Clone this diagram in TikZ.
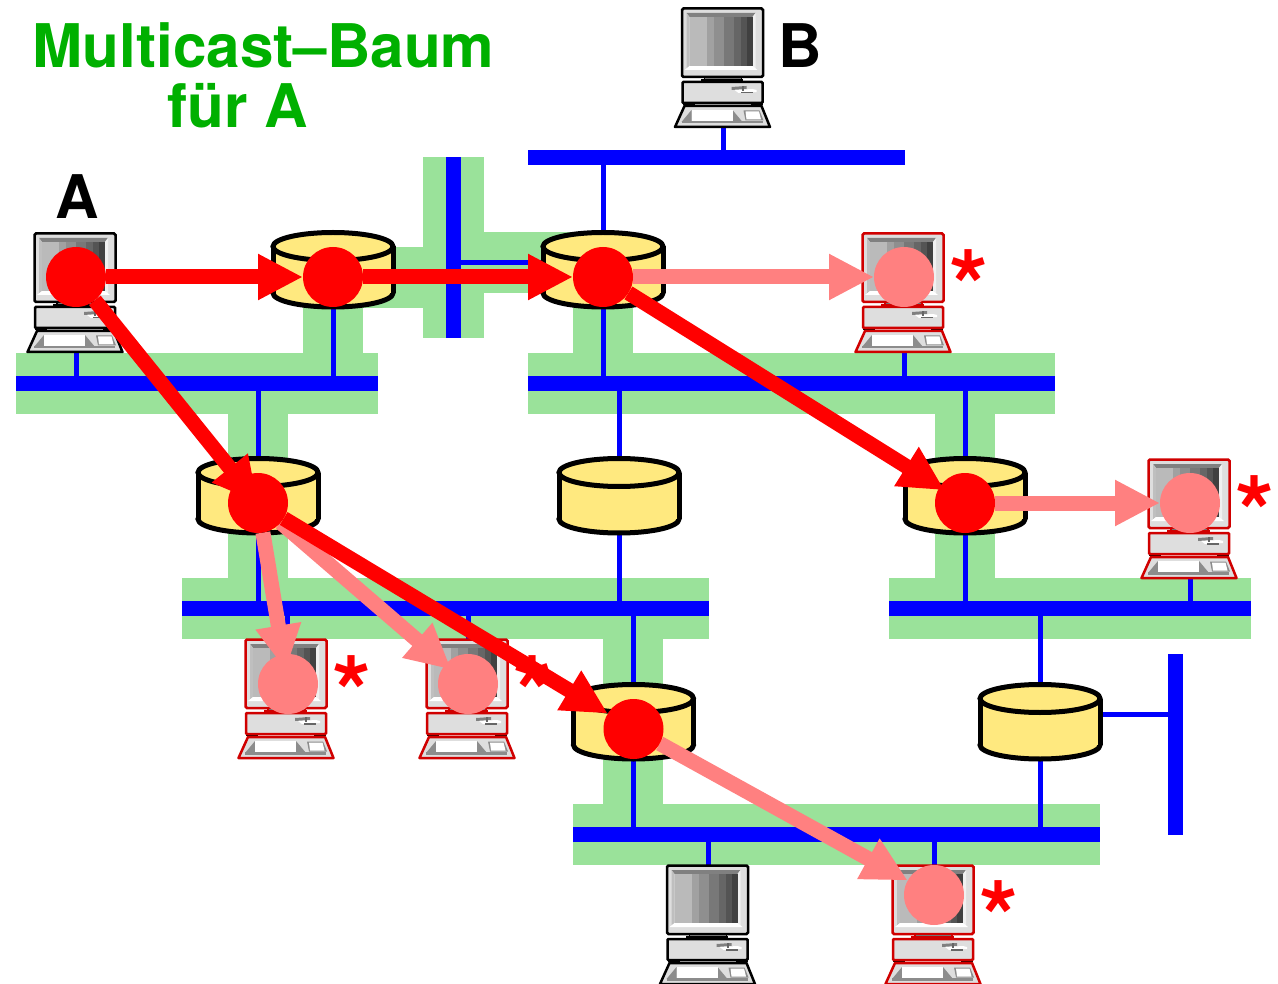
\documentclass[tikz,border=0pt]{standalone}
\usepackage{fontspec}
\setmainfont{TeX Gyre Heros}
\usetikzlibrary{arrows.meta}
\pgfdeclarelayer{dots}
\pgfsetlayers{main,dots}
\definecolor{halo}{HTML}{9AE29A}
\definecolor{netblue}{HTML}{0000FF}
\definecolor{routeryellow}{HTML}{FFE97F}
\definecolor{treegreen}{HTML}{00B000}
\definecolor{pink}{HTML}{FF8080}
\definecolor{compred}{HTML}{D00000}
\newcommand{\compbody}[1]{%
  % monitor
  \draw[draw=#1,line width=2.5,fill=black!13,rounded corners=1.5] (-40.5,-59.5) rectangle (40.5,9);
  \fill[black!50] (-36,-55) -- (33,-55) -- (30,-51) -- (-33,-51) -- cycle;
  \fill[black!25] (-36,-55) -- (-33,-51) -- (-33,-2) -- (-36,2) -- cycle;
  \fill[black!6] (33,-55) -- (30,-51) -- (30,-2) -- (33,2) -- cycle;
  \fill[white] (-33,-2) -- (30,-2) -- (35,2) -- (-38,2) -- cycle;
  \fill[black!27] (-33,-51) rectangle (-16,-2);
  \fill[black!37] (-16,-51) rectangle (-9,-2);
  \fill[black!44] (-9,-51) rectangle (1,-2);
  \fill[black!53] (1,-51) rectangle (11,-2);
  \fill[black!60] (11,-51) rectangle (18,-2);
  \fill[black!67] (18,-51) rectangle (24,-2);
  \fill[black!75] (24,-51) rectangle (30,-2);
  % neck
  \draw[draw=#1,line width=1.5,fill=black!55] (-18,9.5) rectangle (19,12);
  \draw[draw=#1,line width=1.5,fill=black!55] (-21,12) rectangle (20,14);
  % base
  \fill[black] (-40,33) rectangle (-28,37);
  \fill[black] (28,33) rectangle (40,37);
  \draw[draw=#1,line width=2.5,fill=black!13,rounded corners=1] (-40,14) rectangle (40,35);
  \fill[black!50] (9,19) -- (24,18) -- (24,21) -- (9,22) -- cycle;
  \fill[white] (12,22) -- (30,21) -- (34,22) -- (34,24) -- (16,25) -- cycle;
  \fill[black!60] (18,24) rectangle (30,25.5);
  \fill[black!60] (19,18) rectangle (21,23);
  % keyboard
  \draw[draw=#1,line width=2.5,fill=black!13,line join=round] (-38,38) -- (39,38) -- (47.5,59) -- (-47.5,59) -- cycle;
  \fill[black!45] (-41,54) -- (-31,42) -- (-31,54) -- cycle;
  \fill[black!45] (10,42) -- (20,54) -- (10,54) -- cycle;
  \fill[black!45] (-41,53) rectangle (40,55.5);
  \fill[white] (-31,42) rectangle (10,53);
  \fill[black!45] (21,42.5) -- (37,42.5) -- (41,52.5) -- (23,52.5) -- cycle;
  \fill[white] (23,43.5) -- (36.5,43.5) -- (38.5,51.5) -- (24,51.5) -- cycle;
}
\tikzset{
  x=1pt,y=-1pt,
  halofill/.style={fill=halo},
  thinlink/.style={draw=netblue,line width=5},
  busbar/.style={fill=netblue,draw=none,inner sep=0,outer sep=0},
  hitbox/.style={draw=none,fill=none,inner sep=0,outer sep=0},
  routerbox/.style={hitbox,minimum width=124,minimum height=78},
  compbox/.style={hitbox,minimum width=95,minimum height=118},
  computerblack/.pic={\compbody{black}},
  computerred/.pic={\compbody{compred}},
  routerpic/.pic={
    \draw[line width=5,fill=routeryellow] (0,23) ellipse [x radius=60,y radius=14];
    \fill[routeryellow] (-60,-23.5) rectangle (60,23);
    \draw[line width=5] (-60,-23.5) -- (-60,23) (60,-23.5) -- (60,23);
    \draw[line width=5,fill=routeryellow] (0,-23.5) ellipse [x radius=60,y radius=14];
  },
  dot/.style={circle,minimum size=60,inner sep=0,outer sep=0,draw=none},
  hotdot/.style={dot,fill=red},
  softdot/.style={dot,fill=pink},
  hotarrow/.style={draw=red,line width=15,-{Triangle[length=45,width=43]}},
  softarrow/.style={draw=pink,line width=15,-{Triangle[length=45,width=43]}},
  headline/.style={font=\fontsize{60.2}{63}\selectfont\bfseries,text=treegreen,inner sep=0,anchor=base},
  hostlabel/.style={font=\fontsize{60.2}{63}\selectfont\bfseries,text=black,inner sep=0,anchor=base},
  starmark/.style={font=\fontsize{100}{100}\selectfont\bfseries,text=red,inner sep=0,anchor=base},
}
\begin{document}
\begin{tikzpicture}
\useasboundingbox (0,0) rectangle (1278,984);
% green halos
\fill[halofill] (16,353) rectangle (378,414);
\fill[halofill] (528,353) rectangle (1055,414);
\fill[halofill] (182,578) rectangle (709,639);
\fill[halofill] (889,578) rectangle (1251,639);
\fill[halofill] (573,804) rectangle (1100,865);
\fill[halofill] (423,157) rectangle (484,338);
\fill[halofill] (333,247) rectangle (423,308);
\fill[halofill] (484,232) rectangle (603,293);
\fill[halofill] (303,280) rectangle (363,353);
\fill[halofill] (573,280) rectangle (633,353);
\fill[halofill] (228,414) rectangle (288,578);
\fill[halofill] (935,414) rectangle (995,578);
\fill[halofill] (603,639) rectangle (663,804);
% buses
\node[busbar,minimum width=362,minimum height=15] (bus1) at (197,383.5) {};
\node[busbar,minimum width=527,minimum height=15] (bus2) at (791.5,383.5) {};
\node[busbar,minimum width=527,minimum height=15] (bus3) at (445.5,608.5) {};
\node[busbar,minimum width=362,minimum height=15] (bus4) at (1070,608.5) {};
\node[busbar,minimum width=527,minimum height=15] (bus5) at (836.5,834.5) {};
\node[busbar,minimum width=377,minimum height=15] (bustop) at (716.5,157.5) {};
\node[busbar,minimum width=15,minimum height=181] (busv1) at (453,247.5) {};
\node[busbar,minimum width=15,minimum height=181] (busv2) at (1175.5,744) {};
% placeholders
\node[routerbox] (r1) at (333,270) {};
\node[routerbox] (r2) at (603,270) {};
\node[routerbox] (r3) at (258,496) {};
\node[routerbox] (r4) at (619,496) {};
\node[routerbox] (r5) at (965,496) {};
\node[routerbox] (r6) at (633.5,722) {};
\node[routerbox] (r7) at (1040,722) {};
\node[compbox] (hA) at (75,293) {};
\node[compbox] (hB) at (722.5,68) {};
\node[compbox] (hC) at (903,293) {};
\node[compbox] (hD) at (1189,519) {};
\node[compbox] (hE) at (286,699) {};
\node[compbox] (hF) at (467,699) {};
\node[compbox] (hG) at (707.5,925) {};
\node[compbox] (hH) at (933,925) {};
% thin links
\foreach \h/\b in {hA/bus1,hB/bustop,hC/bus2,hD/bus4} {
  \draw[thinlink] ([xshift=1.2]\h.south) -- ([xshift=1.2]\h.south |- \b);
}
\foreach \h/\b in {hE/bus3,hF/bus3,hG/bus5,hH/bus5} {
  \draw[thinlink] ([xshift=1.2]\h.north) -- ([xshift=1.2]\h.north |- \b);
}
\draw[thinlink] (r1.south) -- (r1.south |- bus1);
\draw[thinlink] (r2.south) -- (r2.south |- bus2);
\draw[thinlink] (r2.north) -- (r2.north |- bustop);
\draw[thinlink] (busv1.center |- 0,262.5) -- (r2.center |- 0,262.5);
\draw[thinlink] (r3.north) -- (r3.north |- bus1);
\draw[thinlink] (r3.south) -- (r3.south |- bus3);
\draw[thinlink] (r4.north) -- (r4.north |- bus2);
\draw[thinlink] (r4.south) -- (r4.south |- bus3);
\draw[thinlink] (r5.north) -- (r5.north |- bus2);
\draw[thinlink] (r5.south) -- (r5.south |- bus4);
\draw[thinlink] (r6.north) -- (r6.north |- bus3);
\draw[thinlink] (r6.south) -- (r6.south |- bus5);
\draw[thinlink] (r7.north) -- (r7.north |- bus4);
\draw[thinlink] (r7.south) -- (r7.south |- bus5);
\draw[thinlink] (r7.center |- 0,714) -- (busv2.center |- 0,714);
% routers and computers
\foreach \r in {r1,r2,r3,r4,r5,r6,r7} {\pic at (\r) {routerpic};}
\foreach \h in {hA,hB,hG} {\pic at (\h) {computerblack};}
\foreach \h in {hC,hD,hE,hF,hH} {\pic at (\h) {computerred};}
% text
\node[headline] (title1) at (263.5,68) {Multicast–Baum};
\node[headline] (title2) at (237.5,128) {für A};
\node[hostlabel] (labelA) at (77.5,219) {A};
\node[hostlabel] (labelB) at (800,68) {B};
\node[starmark] (s1) at (969,323) {*};
\node[starmark] (s2) at (1255,548.5) {*};
\node[starmark] (s3) at (351.5,728) {*};
\node[starmark] (s4) at (533,728) {*};
\node[starmark] (s5) at (999,953.5) {*};
% circles, on the layer above the arrows
\begin{pgfonlayer}{dots}
\node[hotdot] (dA) at (76,277) {};
\node[hotdot] (d1) at (333,277) {};
\node[hotdot] (d2) at (603,277) {};
\node[hotdot] (d3) at (258,503) {};
\node[hotdot] (d5) at (965,503) {};
\node[hotdot] (d6) at (633.5,729) {};
\node[softdot] (dC) at (904,277) {};
\node[softdot] (dD) at (1190,503) {};
\node[softdot] (dE) at (288,684) {};
\node[softdot] (dF) at (468,684) {};
\node[softdot] (dH) at (934,895) {};
\end{pgfonlayer}
% arrows
\draw[softarrow] (d2) -- (dC);
\draw[softarrow] (d5) -- (dD);
\draw[softarrow,shorten >=-16] (d3) -- (dE);
\draw[softarrow,shorten >=-8] (d3) -- (dF);
\draw[softarrow] (d6) -- (dH);
\draw[hotarrow] (dA) -- (d1);
\draw[hotarrow] (d1) -- (d2);
\draw[hotarrow] (dA) -- (d3.center);
\draw[hotarrow,shorten >=-6] (d2) -- (d5);
\draw[hotarrow] (d3) -- (d6);
\end{tikzpicture}
\end{document}
